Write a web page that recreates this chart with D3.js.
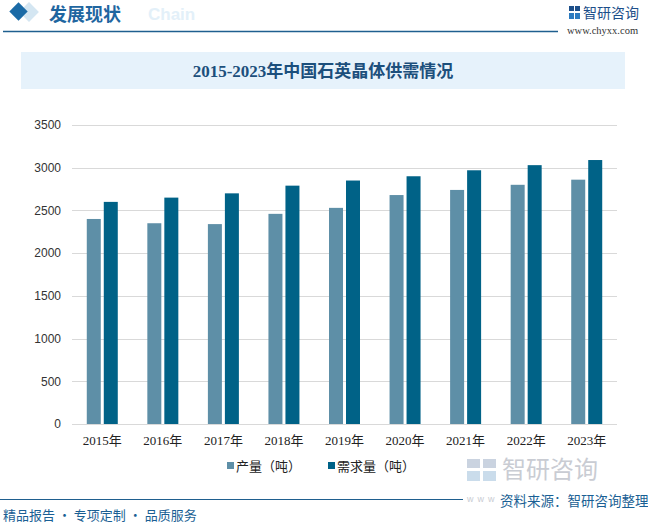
<!DOCTYPE html>
<html>
<head>
<meta charset="utf-8">
<script src="https://cdn.jsdelivr.net/npm/d3@7"></script>
<style>
  body { margin: 0; background: #fff; }
  svg { display: block; }
</style>
</head>
<body>
<div id="chart"></div>
<script>
// DATA
var years = ["2015年", "2016年", "2017年", "2018年", "2019年", "2020年", "2021年", "2022年", "2023年"];
var production = [2400, 2350, 2340, 2460, 2530, 2680, 2740, 2800, 2860];
var demand = [2600, 2650, 2700, 2790, 2850, 2900, 2970, 3030, 3090];
var seriesNames = ["产量（吨）", "需求量（吨）"];
var yTicks = [0, 500, 1000, 1500, 2000, 2500, 3000, 3500];

var colors = ["#5e8fa7", "#006287"];
var width = 648, height = 524;
var serif = "'Liberation Serif', 'DejaVu Serif', 'Noto Sans CJK SC', serif";
var sans = "'Liberation Sans', Arial, 'Noto Sans CJK SC', sans-serif";
var cjk = "'Noto Sans CJK SC', sans-serif";

var svg = d3.select("#chart").append("svg")
  .attr("width", width)
  .attr("height", height);

// header
svg.append("rect")
  .attr("x", 22).attr("y", 5).attr("width", 14).attr("height", 14)
  .attr("fill", "#d4e6f2")
  .attr("transform", "rotate(45 29 12)");
svg.append("rect")
  .attr("x", 12).attr("y", 5).attr("width", 13).attr("height", 13)
  .attr("fill", "#1a6aa6")
  .attr("transform", "rotate(45 18.5 11.5)");
svg.append("text")
  .attr("x", 148).attr("y", 20)
  .style("font-family", sans).style("font-weight", "bold")
  .style("font-size", "17px").attr("fill", "#e3f0f9")
  .text("Chain");
svg.append("text")
  .attr("x", 49).attr("y", 21)
  .style("font-family", cjk).style("font-weight", "bold")
  .style("font-size", "18px").attr("fill", "#1f66a0")
  .text("发展现状");
svg.append("line")
  .attr("x1", 3).attr("x2", 558).attr("y1", 31.5).attr("y2", 31.5)
  .attr("stroke", "#1f5f8f").attr("stroke-width", 1.5);

// top-right logo
var logo = svg.append("g").attr("transform", "translate(569,6)");
logo.append("rect").attr("x", 0).attr("y", 0).attr("width", 5).attr("height", 5).attr("fill", "#1d4f8a");
logo.append("rect").attr("x", 6).attr("y", 0).attr("width", 5).attr("height", 5).attr("fill", "#1d4f8a");
logo.append("rect").attr("x", 0).attr("y", 7).attr("width", 5).attr("height", 6).attr("fill", "#2c7bc0");
logo.append("rect").attr("x", 6).attr("y", 7).attr("width", 5).attr("height", 6).attr("fill", "#2c7bc0");
svg.append("text")
  .attr("x", 583).attr("y", 18)
  .style("font-family", cjk).style("font-size", "14px").attr("fill", "#1d4f8a")
  .text("智研咨询");
svg.append("text")
  .attr("x", 567).attr("y", 34)
  .style("font-family", serif).style("font-size", "10.5px").attr("fill", "#333")
  .text("www.chyxx.com");

// title box
svg.append("rect")
  .attr("x", 21).attr("y", 52).attr("width", 604).attr("height", 37)
  .attr("fill", "#e6f2fb");
svg.append("text")
  .attr("x", 323).attr("y", 77)
  .attr("text-anchor", "middle")
  .style("font-family", serif).style("font-weight", "bold")
  .style("font-size", "17px").attr("fill", "#1c4f7c")
  .text("2015-2023年中国石英晶体供需情况");

// scales
var x0 = d3.scaleBand().domain(years).range([72, 617]);
var inner = 31;
var x1 = d3.scaleBand().domain([0, 1]).range([0, inner]).paddingInner(3 / 17);
var y = d3.scaleLinear().domain([0, 3500]).range([424, 125]);

// grid
svg.append("g").selectAll("line")
  .data(yTicks)
  .enter()
  .append("line")
  .attr("x1", 72).attr("x2", 617)
  .attr("y1", function (d) { return Math.round(y(d)) + 0.5; })
  .attr("y2", function (d) { return Math.round(y(d)) + 0.5; })
  .attr("stroke", "#d9d9d9").attr("stroke-width", 1);

// y axis labels
var yAxis = d3.axisLeft(y).tickValues(yTicks).tickFormat(d3.format("d")).tickSize(0).tickPadding(0);
var yg = svg.append("g").attr("transform", "translate(61,0)").call(yAxis);
yg.select(".domain").remove();
yg.selectAll("text")
  .style("font-family", sans).style("font-size", "12px").attr("fill", "#333");

// bars
var groups = svg.append("g").selectAll("g")
  .data(years)
  .enter()
  .append("g")
  .attr("transform", function (d) {
    return "translate(" + (x0(d) + (x0.bandwidth() - inner) / 2) + ",0)";
  });

groups.selectAll("rect")
  .data(function (d, i) {
    return [{ s: 0, v: production[i] }, { s: 1, v: demand[i] }];
  })
  .enter()
  .append("rect")
  .attr("x", function (d) { return x1(d.s); })
  .attr("width", x1.bandwidth())
  .attr("y", function (d) { return y(d.v); })
  .attr("height", function (d) { return y(0) - y(d.v); })
  .attr("fill", function (d) { return colors[d.s]; });

// x axis labels
var xAxis = d3.axisBottom(x0).tickSize(0).tickPadding(0);
var xg = svg.append("g").attr("transform", "translate(0,434)").call(xAxis);
xg.select(".domain").remove();
xg.selectAll("text")
  .attr("dy", "0.85em")
  .style("font-family", serif).style("font-size", "13px").attr("fill", "#222");

// legend
var legendX = [227, 328];
var legend = svg.append("g").selectAll("g")
  .data(seriesNames)
  .enter()
  .append("g")
  .attr("transform", function (d, i) { return "translate(" + legendX[i] + ",466)"; });
legend.append("rect")
  .attr("x", 0).attr("y", -4).attr("width", 7).attr("height", 7)
  .attr("fill", function (d, i) { return colors[i]; });
legend.append("text")
  .attr("x", 9).attr("y", 5)
  .style("font-family", cjk).style("font-size", "13px").attr("fill", "#222")
  .text(function (d) { return d; });

// footer watermark logo
var wm = svg.append("g").attr("transform", "translate(467,459)").attr("opacity", 0.55);
wm.append("rect").attr("x", 0).attr("y", 0).attr("width", 13).attr("height", 9).attr("fill", "#9fb0c8");
wm.append("rect").attr("x", 16).attr("y", 0).attr("width", 13).attr("height", 9).attr("fill", "#9fb0c8");
wm.append("rect").attr("x", 0).attr("y", 12).attr("width", 13).attr("height", 10).attr("fill", "#9fc0dc");
wm.append("rect").attr("x", 16).attr("y", 12).attr("width", 13).attr("height", 10).attr("fill", "#9fc0dc");
svg.append("text")
  .attr("x", 502).attr("y", 478)
  .style("font-family", cjk).style("font-size", "24px").attr("fill", "#c9ccd3")
  .text("智研咨询");
svg.append("text")
  .attr("x", 467).attr("y", 502)
  .style("font-family", sans).style("font-size", "9px")
  .style("letter-spacing", "4px").attr("fill", "#c9ccd3")
  .text("www");

// footer
svg.append("line")
  .attr("x1", 0).attr("x2", 463).attr("y1", 499.5).attr("y2", 499.5)
  .attr("stroke", "#1f5f8f").attr("stroke-width", 1.2);
svg.append("text")
  .attr("x", 500).attr("y", 506)
  .style("font-family", cjk).style("font-size", "13.5px").attr("fill", "#1a5f94")
  .text("资料来源：智研咨询整理");
svg.append("text")
  .attr("x", 3).attr("y", 520)
  .style("font-family", cjk).style("font-size", "13px").attr("fill", "#1a5f94")
  .text("精品报告 · 专项定制 · 品质服务");
</script>
</body>
</html>
